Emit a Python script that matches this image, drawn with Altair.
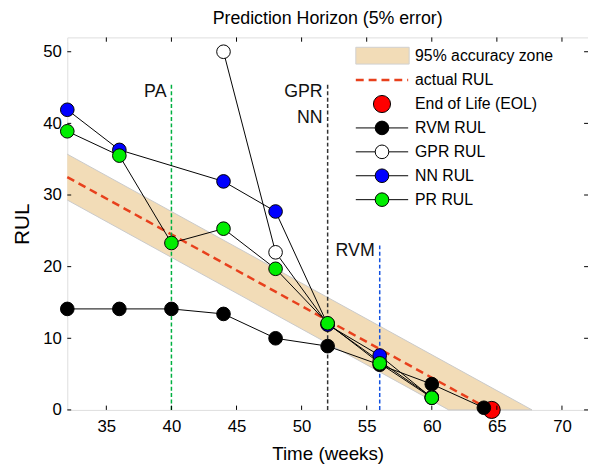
import altair as alt
import pandas as pd

# ---------------- data ----------------
t_rvm = [32, 36, 40, 44, 48, 52, 56, 60, 64]
rul_rvm = [14.1, 14.1, 14.1, 13.4, 10.0, 8.9, 6.3, 3.6, 0.3]

t_gpr = [44, 48, 52, 56, 60]
rul_gpr = [50.0, 22.0, 12.0, 6.8, 1.8]

t_nn = [32, 36, 44, 48, 52, 56, 60]
rul_nn = [41.9, 36.3, 31.9, 27.7, 11.9, 7.6, 1.7]

t_pr = [32, 36, 40, 44, 48, 52, 56, 60]
rul_pr = [38.9, 35.5, 23.3, 25.3, 19.7, 12.1, 6.5, 1.7]

actual_t = [32, 64.5]
actual_rul = [32.5, 0.0]

zone_t = [32, 61.3, 67.7]
zone_hi = [35.7, 6.4, 0.0]
zone_lo = [29.3, 0.0, 0.0]

eol_t = [64.6]
eol_rul = [0.0]

marker_t = [40, 52, 56]
marker_top = [45.4, 45.4, 23.1]
marker_labels = ["PA", "GPR\nNN", "RVM"]

x_ticks = [35, 40, 45, 50, 55, 60, 65, 70]
y_ticks = [0, 10, 20, 30, 40, 50]

FONT = "Liberation Sans"
xs = alt.Scale(domain=[32, 72], nice=False, zero=False)
ys = alt.Scale(domain=[0, 52], nice=False, zero=False)

def df(**kw):
    return pd.DataFrame(kw)

zone_df = df(t=zone_t, hi=zone_hi, lo=zone_lo)

zone = alt.Chart(zone_df).mark_area(color="#F2DCB7", opacity=1).encode(
    x=alt.X("t:Q", scale=xs, axis=alt.Axis(values=x_ticks, title="Time (weeks)", grid=False, domain=False,
                                            ticks=False, labelFontSize=17, labelFont=FONT, labelColor="black",
                                            labelPadding=9, titleFontSize=19, titleFont=FONT,
                                            titleFontWeight="normal", titleColor="black", titlePadding=10)),
    y=alt.Y("hi:Q", scale=ys, axis=alt.Axis(values=y_ticks, title="RUL", grid=False, domain=False,
                                             ticks=False, labelFontSize=17, labelFont=FONT, labelColor="black",
                                             labelPadding=6, titleFontSize=21, titleFont=FONT,
                                             titleFontWeight="normal", titleColor="black", titlePadding=10)),
    y2="lo:Q",
)
zone_hi_line = alt.Chart(zone_df).mark_line(color="#c9c9c9", strokeWidth=1).encode(
    x=alt.X("t:Q", scale=xs), y=alt.Y("hi:Q", scale=ys))
zone_lo_line = alt.Chart(zone_df).mark_line(color="#c9c9c9", strokeWidth=1).encode(
    x=alt.X("t:Q", scale=xs), y=alt.Y("lo:Q", scale=ys))

actual = alt.Chart(df(t=actual_t, r=actual_rul)).mark_line(
    color="#E8401C", strokeWidth=2.5, strokeDash=[8, 5]).encode(
    x=alt.X("t:Q", scale=xs), y=alt.Y("r:Q", scale=ys))

vcolors = ["#00B040", "#333333", "#1050E0"]
vlines = []
for i in range(3):
    d = df(t=[marker_t[i]], top=[marker_top[i]], lab=[marker_labels[i]])
    vlines.append(alt.Chart(d).transform_calculate(zero="0").mark_line(
        strokeWidth=1.5, strokeDash=[4, 2.5], color=vcolors[i], opacity=1).encode(
        x=alt.X("t:Q", scale=xs), y=alt.Y("zero:Q", scale=ys), y2="top:Q"))
    vlines.append(alt.Chart(d).transform_calculate(lines="split(datum.lab, '\\n')").mark_text(
        align="right", baseline="top", dx=-5, dy=-2, fontSize=18,
        font=FONT, color="#111", lineHeight=27).encode(
        x=alt.X("t:Q", scale=xs), y=alt.Y("top:Q", scale=ys),
        text=alt.Text("lines:N")))

eol = alt.Chart(df(t=eol_t, r=eol_rul)).mark_point(
    shape="circle", filled=True, fill="#FF0000", stroke="black", strokeWidth=1, size=300, opacity=1).encode(
    x=alt.X("t:Q", scale=xs), y=alt.Y("r:Q", scale=ys))

series = [
    (t_rvm, rul_rvm, "#000000"),
    (t_gpr, rul_gpr, "#FFFFFF"),
    (t_nn, rul_nn, "#0000FF"),
    (t_pr, rul_pr, "#00EE00"),
]
lines = []
points = []
for t, r, c in series:
    d = df(t=t, r=r)
    lines.append(alt.Chart(d).mark_line(color="black", strokeWidth=1).encode(
        x=alt.X("t:Q", scale=xs), y=alt.Y("r:Q", scale=ys)))
    points.append(alt.Chart(d).mark_point(
        shape="circle", filled=True, fill=c, stroke="black", strokeWidth=1, size=190, opacity=1).encode(
        x=alt.X("t:Q", scale=xs), y=alt.Y("r:Q", scale=ys)))

# inward ticks on all four sides
xt = df(v=x_ticks)
yt = df(v=y_ticks)
tick_layers = [
    alt.Chart(xt).transform_calculate(a="0", b="0.6").mark_rule(color="black", strokeWidth=1).encode(
        x=alt.X("v:Q", scale=xs), y=alt.Y("a:Q", scale=ys), y2="b:Q"),
    alt.Chart(xt).transform_calculate(a="52", b="51.4").mark_rule(color="black", strokeWidth=1).encode(
        x=alt.X("v:Q", scale=xs), y=alt.Y("a:Q", scale=ys), y2="b:Q"),
    alt.Chart(yt).transform_calculate(a="32", b="32.3").mark_rule(color="black", strokeWidth=1).encode(
        y=alt.Y("v:Q", scale=ys), x=alt.X("a:Q", scale=xs), x2="b:Q"),
    alt.Chart(yt).transform_calculate(a="72", b="71.7").mark_rule(color="black", strokeWidth=1).encode(
        y=alt.Y("v:Q", scale=ys), x=alt.X("a:Q", scale=xs), x2="b:Q"),
]

# legend (drawn by hand, in pixel positions of the plot area)
legend_labels = ["95% accuracy zone", "actual RUL", "End of Life (EOL)",
                 "RVM RUL", "GPR RUL", "NN RUL", "PR RUL"]
one = pd.DataFrame({"a": [0]})
LX0, LX1, LXC, LTX = 292, 345, 318.5, 352
rows = [19 + 24.2 * i for i in range(7)]
leg = []
leg.append(alt.Chart(one).mark_rect(fill="#F2DCB7", stroke="#d0d0d0", strokeWidth=1).encode(
    x=alt.value(LX0), x2=alt.value(LX1 + 1), y=alt.value(rows[0] - 9), y2=alt.value(rows[0] + 8)))
leg.append(alt.Chart(one).mark_rule(color="#E8401C", strokeWidth=2.5, strokeDash=[8, 5]).encode(
    x=alt.value(LX0), x2=alt.value(LX1), y=alt.value(rows[1])))
leg.append(alt.Chart(one).mark_point(shape="circle", filled=True, fill="#FF0000", stroke="black",
                                     strokeWidth=1, size=300, opacity=1).encode(
    x=alt.value(LXC), y=alt.value(rows[2])))
for k, (_, _, c) in enumerate(series):
    yy = rows[3 + k]
    leg.append(alt.Chart(one).mark_rule(color="black", strokeWidth=1).encode(
        x=alt.value(LX0), x2=alt.value(LX1), y=alt.value(yy)))
    leg.append(alt.Chart(one).mark_point(shape="circle", filled=True, fill=c, stroke="black",
                                         strokeWidth=1, size=190, opacity=1).encode(
        x=alt.value(LXC), y=alt.value(yy)))
for k, lab in enumerate(legend_labels):
    leg.append(alt.Chart(one).mark_text(align="left", baseline="middle", fontSize=16, font=FONT,
                                        color="black").encode(
        x=alt.value(LTX), y=alt.value(rows[k]), text=alt.value(lab)))

chart = alt.layer(
    zone, zone_hi_line, zone_lo_line, actual, *vlines, eol, *lines, *points, *tick_layers, *leg
).properties(
    width=527, height=377,
    title=alt.Title("Prediction Horizon (5% error)", fontSize=18, font=FONT, fontWeight="normal",
                    anchor="middle", offset=9, color="black"),
    padding={"left": 60, "top": 27, "right": 0, "bottom": 55},
    autosize=alt.AutoSizeParams(type="none"),
).configure_view(stroke="black", strokeWidth=1.5).configure(background="white")

chart.save("out.html", embed_options={"renderer": "svg", "actions": False})
